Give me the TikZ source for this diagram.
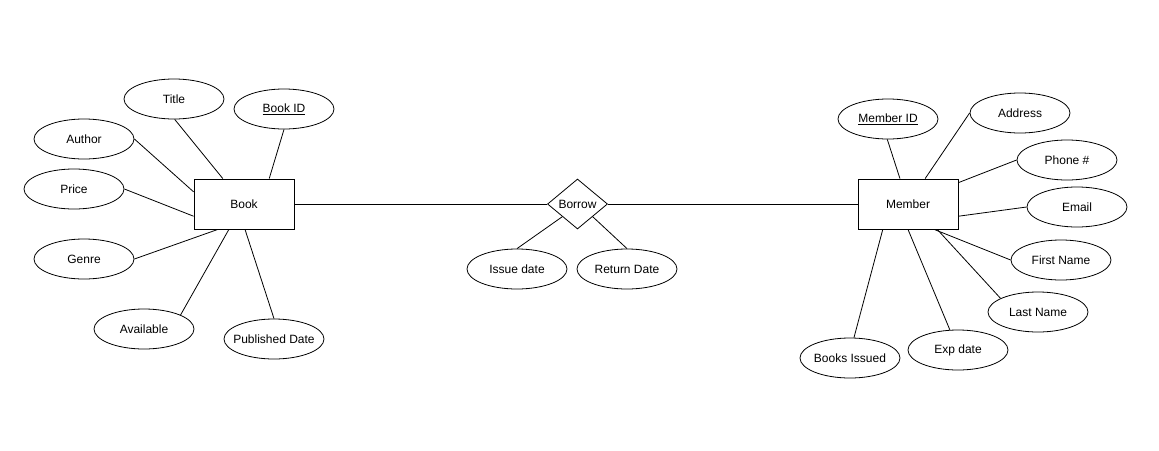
\documentclass[tikz,border=0pt]{standalone}
\usepackage{fontspec}
\setmainfont{Liberation Sans}
\usetikzlibrary{shapes.geometric,calc}
\begin{document}
\begin{tikzpicture}[x=1pt,y=-1pt,
  every node/.style={font=\fontsize{12}{14}\selectfont},
  ent/.style={draw,line width=0.9pt,minimum width=100pt,minimum height=50pt,inner sep=0pt},
  attr/.style={draw,ellipse,line width=0.8pt,minimum width=100pt,minimum height=40pt,inner ysep=0pt,inner xsep=-8pt},
  rel/.style={draw,diamond,line width=0.8pt,minimum width=60pt,minimum height=50pt,inner sep=0pt},
  conn/.style={line width=0.8pt}]
\fill[white] (0,0) rectangle (1159,450);
\useasboundingbox (0,0) rectangle (1159,450);
% entities
\node[ent] (book) at (244,204) {Book};
\node[ent] (member) at (908,204) {Member};
\node[rel] (borrow) at (577.5,204) {Borrow};
% book attributes
\node[attr] (title) at (174,99) {Title};
\node[attr] (bookid) at (284,109) {\underline{Book ID}};
\node[attr] (author) at (84,139) {Author};
\node[attr] (price) at (74,189) {Price};
\node[attr] (genre) at (84,259) {Genre};
\node[attr] (avail) at (144,329) {Available};
\node[attr] (pub) at (274,339) {Published Date};
% member attributes
\node[attr] (memid) at (888,119) {\underline{Member ID}};
\node[attr] (addr) at (1020,113) {Address};
\node[attr] (phone) at (1067,160) {Phone \#};
\node[attr] (email) at (1077,207) {Email};
\node[attr] (first) at (1061,260) {First Name};
\node[attr] (last) at (1038,312) {Last Name};
\node[attr] (exp) at (958,350) {Exp date};
\node[attr] (issued) at (850,358) {Books Issued};
% relationship attributes
\node[attr] (issue) at (517,269) {Issue date};
\node[attr] (ret) at (627,269) {Return Date};
% connectors
\draw[conn] (book.east) -- (borrow.west);
\draw[conn] (borrow.east) -- (member.west);
\draw[conn] (title.-88) -- ($(book.north west)!0.29!(book.north east)$);
\draw[conn] (bookid.south) -- ($(book.north west)!0.75!(book.north east)$);
\draw[conn] (author.east) -- ($(book.north west)!0.26!(book.south west)$);
\draw[conn] (price.east) -- ($(book.north west)!0.74!(book.south west)$);
\draw[conn] (genre.east) -- ($(book.south west)!0.24!(book.south east)$);
\draw[conn] (avail.21) -- ($(book.south west)!0.35!(book.south east)$);
\draw[conn] (pub.north) -- ($(book.south west)!0.51!(book.south east)$);
\draw[conn] (memid.-92) -- ($(member.north west)!0.42!(member.north east)$);
\draw[conn] (addr.west) -- ($(member.north west)!0.67!(member.north east)$);
\draw[conn] (phone.west) -- ($(member.north east)!0.08!(member.south east)$);
\draw[conn] (email.west) -- ($(member.north east)!0.74!(member.south east)$);
\draw[conn] (first.west) -- ($(member.south west)!0.76!(member.south east)$);
\draw[conn] (last.160) -- ($(member.south west)!0.79!(member.south east)$);
\draw[conn] (exp.112) -- ($(member.south west)!0.5!(member.south east)$);
\draw[conn] (issued.79) -- ($(member.south west)!0.25!(member.south east)$);
\draw[conn] (issue.north) -- ($(borrow.south)!0.5!(borrow.west)$);
\draw[conn] (ret.north) -- ($(borrow.south)!0.5!(borrow.east)$);
\end{tikzpicture}
\end{document}
